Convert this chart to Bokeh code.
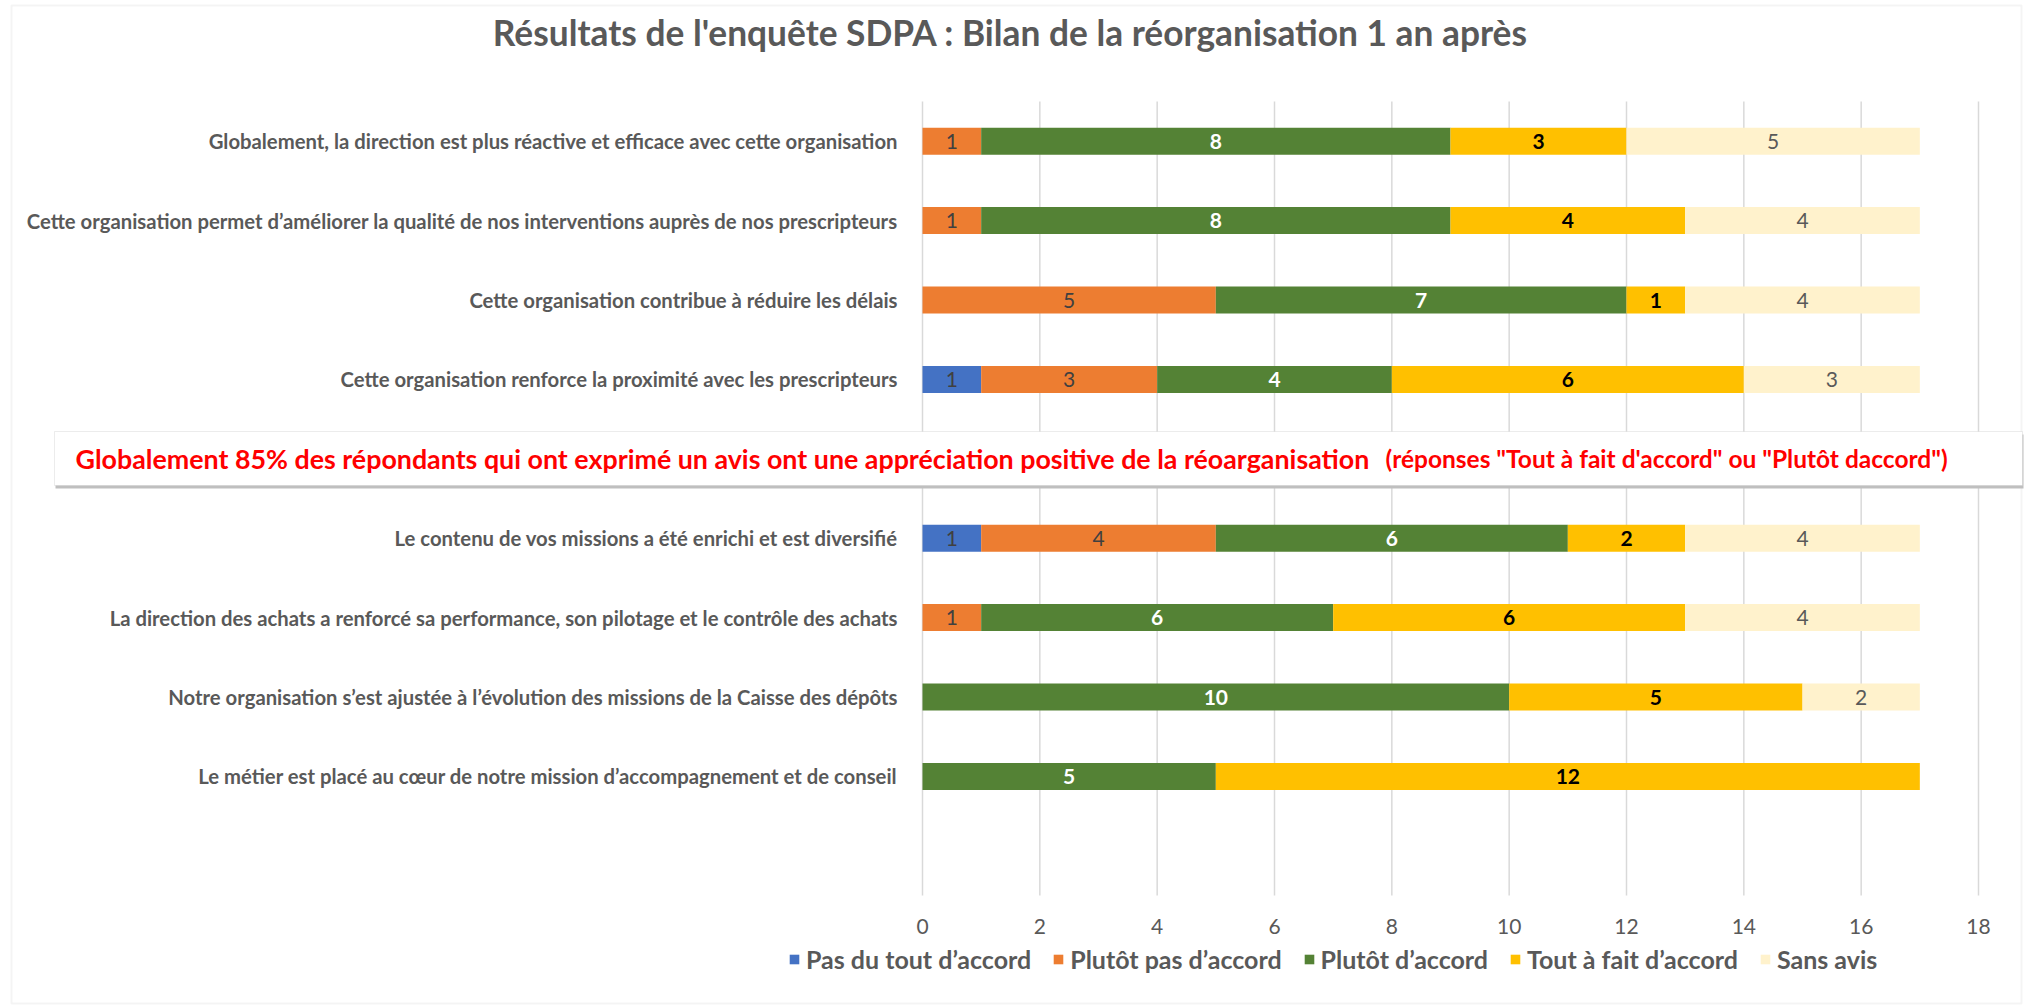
from bokeh.plotting import figure
from bokeh.models import (ColumnDataSource, Range1d, FixedTicker, Legend, LegendItem,
                          Label, BoxAnnotation, LinearAxis)
from bokeh.core.properties import value
from bokeh.embed import file_html
from bokeh.resources import INLINE

# ---------------- data ----------------
title_text = "Résultats de l'enquête SDPA : Bilan de la réorganisation 1 an après"
note_main = ("Globalement 85% des répondants qui ont exprimé un avis ont une "
             "appréciation positive de la réoarganisation")
note_sub = "(réponses \"Tout à fait d'accord\" ou \"Plutôt daccord\")"

categories = [
    "Globalement, la direction est plus réactive et efficace avec cette organisation",
    "Cette organisation permet d’améliorer la qualité de nos interventions auprès de nos prescripteurs",
    "Cette organisation contribue à réduire les délais",
    "Cette organisation renforce la proximité avec les prescripteurs",
    "",
    "Le contenu de vos missions a été enrichi et est diversifié",
    "La direction des achats a renforcé sa performance, son pilotage et le contrôle des achats",
    "Notre organisation s’est ajustée à l’évolution des missions de la Caisse des dépôts",
    "Le métier est placé au cœur de notre mission d’accompagnement et de conseil",
    "",
]

series_names = ["Pas du tout d’accord", "Plutôt pas d’accord", "Plutôt d’accord",
                "Tout à fait d’accord", "Sans avis"]
pas_du_tout = [0, 0, 0, 1, 0, 1, 0, 0, 0, 0]
plutot_pas = [1, 1, 5, 3, 0, 4, 1, 0, 0, 0]
plutot = [8, 8, 7, 4, 0, 6, 6, 10, 5, 0]
tout_a_fait = [3, 4, 1, 6, 0, 2, 6, 5, 12, 0]
sans_avis = [5, 4, 4, 3, 0, 4, 4, 2, 0, 0]

x_ticks = [0, 2, 4, 6, 8, 10, 12, 14, 16, 18]

# ---------------- styles ----------------
FONT = "Lato"
GREY = "#595959"
colors = ["#4472C4", "#ED7D31", "#548235", "#FFC000", "#FFF2CC"]
label_colors = ["#404040", "#404040", "#FFFFFF", "#000000", "#595959"]
label_styles = ["normal", "normal", "bold", "bold", "normal"]

series = [pas_du_tout, plutot_pas, plutot, tout_a_fait, sans_avis]
keys = ["s%d" % i for i in range(len(series))]
rows = list(range(len(categories)))

src = {"row": rows}
for k, s in zip(keys, series):
    src[k] = s
source = ColumnDataSource(src)

# data labels (centres of the stacked segments)
lx, ly, lt, lc, ls = [], [], [], [], []
for r in rows:
    cum = 0
    for j, s in enumerate(series):
        v = s[r]
        if v > 0:
            lx.append(cum + v / 2)
            ly.append(r)
            lt.append(str(v))
            lc.append(label_colors[j])
            ls.append(label_styles[j])
        cum += v
lsource = ColumnDataSource(dict(x=lx, y=ly, text=lt, color=lc, style=ls))

# ---------------- layout (pixels) ----------------
W, H = 2028, 1006
PL, PR, PT, PB = 922, 1978, 101, 895        # plotting area in canvas pixels
x_min, x_max = x_ticks[0], x_ticks[-1]
px_x = (PR - PL) / (x_max - x_min)
n = len(categories)
px_y = (PB - PT) / n
y_top = -0.5
y_bot = n - 0.5

p = figure(width=W, height=H, output_backend="svg", toolbar_location=None,
           x_range=Range1d(x_min - PL / px_x, x_max + (W - PR) / px_x),
           y_range=Range1d(y_bot + (H - PB) / px_y, y_top - PT / px_y),
           x_axis_location=None, y_axis_location=None,
           min_border=0, min_border_left=0, min_border_right=0,
           min_border_top=0, min_border_bottom=0)
p.outline_line_color = None
p.background_fill_color = "white"
p.border_fill_color = "white"
p.grid.visible = False

# vertical gridlines
p.segment(x0=x_ticks, x1=x_ticks, y0=[y_top] * len(x_ticks), y1=[y_bot] * len(x_ticks),
          line_color="#D9D9D9", line_width=1.5)

renderers = p.hbar_stack(keys, y="row", height=0.34, fill_color=colors,
                         line_color=None, source=source)

p.text(x="x", y="y", text="text", source=lsource, text_align="center",
       text_baseline="middle", text_font=value(FONT), text_font_size="21px",
       text_color="color", text_font_style="style")

# axes
xaxis = LinearAxis(fixed_location=y_bot, ticker=FixedTicker(ticks=x_ticks))
xaxis.axis_line_color = None
xaxis.major_tick_line_color = None
xaxis.minor_tick_line_color = None
xaxis.major_label_text_font = FONT
xaxis.major_label_text_font_size = "21px"
xaxis.major_label_text_color = GREY
xaxis.major_label_standoff = 17
p.add_layout(xaxis, "below")

yaxis = LinearAxis(fixed_location=x_min,
                   ticker=FixedTicker(ticks=[i for i, c in enumerate(categories) if c]))
yaxis.major_label_overrides = {i: c for i, c in enumerate(categories) if c}
yaxis.axis_line_color = None
yaxis.major_tick_line_color = None
yaxis.minor_tick_line_color = None
yaxis.major_label_text_font = FONT
yaxis.major_label_text_font_style = "bold"
yaxis.major_label_text_font_size = "20.3px"
yaxis.major_label_text_color = GREY
yaxis.major_label_standoff = 19
p.add_layout(yaxis, "left")

# outer chart border
p.add_layout(BoxAnnotation(left=11, right=2021, top=H - 5, bottom=H - 1003,
                           left_units="screen", right_units="screen", top_units="screen",
                           bottom_units="screen", fill_alpha=0,
                           line_color="#D9D9D9", line_width=2))

# title
p.add_layout(Label(x=1010, y=H - 32, x_units="screen", y_units="screen",
                   text=title_text, text_align="center", text_baseline="middle",
                   text_font=FONT, text_font_style="bold", text_font_size="35.3px",
                   text_color=GREY))

# note box with shadow
bl, br, bt, bb = 54, 2022, H - 431, H - 485
p.add_layout(BoxAnnotation(left=bl + 1, right=br + 1, top=bt - 3, bottom=bb - 3,
                           left_units="screen", right_units="screen",
                           top_units="screen", bottom_units="screen",
                           fill_color="#BFBFBF", fill_alpha=1, line_color=None))
p.add_layout(BoxAnnotation(left=bl, right=br, top=bt, bottom=bb,
                           left_units="screen", right_units="screen",
                           top_units="screen", bottom_units="screen",
                           fill_color="white", fill_alpha=1, line_color="#BFBFBF",
                           line_width=1))
p.add_layout(Label(x=75, y=H - 458, x_units="screen", y_units="screen",
                   text=note_main, text_align="left", text_baseline="middle",
                   text_font=FONT, text_font_style="bold", text_font_size="26.8px",
                   text_color="#FF0000"))
p.add_layout(Label(x=1385, y=H - 458, x_units="screen", y_units="screen",
                   text=note_sub, text_align="left", text_baseline="middle",
                   text_font=FONT, text_font_style="bold", text_font_size="24.5px",
                   text_color="#FF0000"))

# legend
legend = Legend(items=[LegendItem(label=nm, renderers=[r]) for nm, r in zip(series_names, renderers)],
                orientation="horizontal", location=(788, H - 950 - 24),
                glyph_width=12, glyph_height=12, label_standoff=6, spacing=21,
                padding=0, margin=0, border_line_color=None, background_fill_alpha=0,
                label_text_font=FONT, label_text_font_style="bold",
                label_text_font_size="25px", label_text_color=GREY,
                label_height=24)
p.add_layout(legend, "center")

open("out.html", "w").write(file_html(p, INLINE))
